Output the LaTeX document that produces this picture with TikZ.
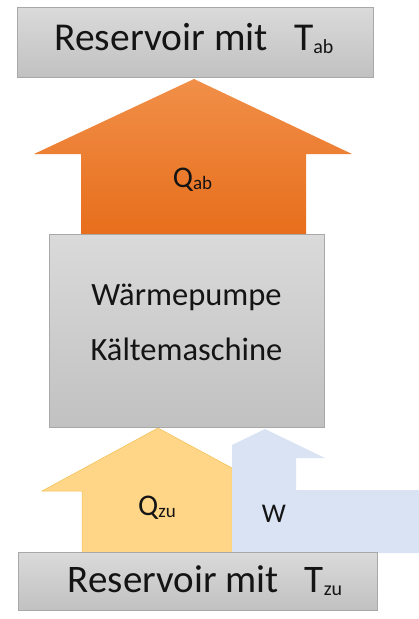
\documentclass[tikz,border=0pt]{standalone}
\usepackage{fontspec}
\setmainfont{Carlito}

\definecolor{boxtop}{RGB}{218,218,218}
\definecolor{boxbot}{RGB}{193,193,193}
\definecolor{boxline}{RGB}{168,168,168}
\definecolor{heattop}{RGB}{241,143,72}
\definecolor{heatbot}{RGB}{231,110,28}
\definecolor{coldfill}{RGB}{255,214,135}
\definecolor{coldline}{RGB}{242,192,84}
\definecolor{workfill}{RGB}{218,227,243}
\definecolor{ink}{RGB}{20,20,20}

% lowered, smaller index text
\newcommand{\lowidx}[3]{{\fontsize{#1}{#1}\selectfont\raisebox{-#2}{#3}}}

\begin{document}
\begin{tikzpicture}[x=1pt,y=-1pt,
  panel/.style={draw=boxline, line width=0.6pt, top color=boxtop,
    bottom color=boxbot, inner sep=0pt, anchor=north west},
  caption/.style={inner sep=0pt, anchor=base, text=ink},
  heatflow/.style={top color=heattop, bottom color=heatbot, draw=none},
  coldflow/.style={fill=coldfill, draw=coldline, line width=0.5pt},
  workflow/.style={fill=workfill, draw=none}]
\useasboundingbox (0,0) rectangle (419,619);

% heat given off to the hot reservoir
\path[heatflow] (81,235) -- (81,154) -- (34,154) -- (194,79)
  -- (352,154) -- (306,154) -- (306,235) -- cycle;

% heat taken from the cold reservoir
\path[coldflow] (82,553) -- (82,491) -- (42,491) -- (158,428)
  -- (232,468) -- (232,553) -- cycle;

% work supplied from the side
\path[workflow] (232,553) -- (232,445) -- (265,429) -- (325,458)
  -- (296,458) -- (296,490) -- (419,490) -- (419,553) -- cycle;

% reservoirs and machine
\node[panel, minimum width=356pt, minimum height=70pt] (hot) at (17,7) {};
\node[panel, minimum width=275pt, minimum height=193pt] (machine) at (49,234) {};
\node[panel, minimum width=359pt, minimum height=58pt] (cold) at (18,552) {};

\node[caption] (hottext) at (194,50)
  {\fontsize{39.5}{41}\selectfont Reservoir mit\hspace{26pt}T\lowidx{20}{3pt}{ab}};
\node[caption] (coldtext) at (205,592)
  {\fontsize{39}{41}\selectfont Reservoir mit\hspace{26pt}T\lowidx{20}{3pt}{zu}};

\node[caption] (line1) at (186.5,305)
  {\fontsize{32.5}{34}\selectfont Wärmepumpe};
\node[caption] (line2) at (186.5,360)
  {\fontsize{32.5}{34}\selectfont Kältemaschine};

\node[caption] (qab) at (192.5,187)
  {\fontsize{30}{32}\selectfont Q\lowidx{19}{2pt}{ab}};
\node[caption] (qzu) at (157,515)
  {\fontsize{30}{32}\selectfont Q\lowidx{19}{2pt}{zu}};
\node[caption] (work) at (274,522)
  {\fontsize{27}{29}\selectfont W};
\end{tikzpicture}
\end{document}
